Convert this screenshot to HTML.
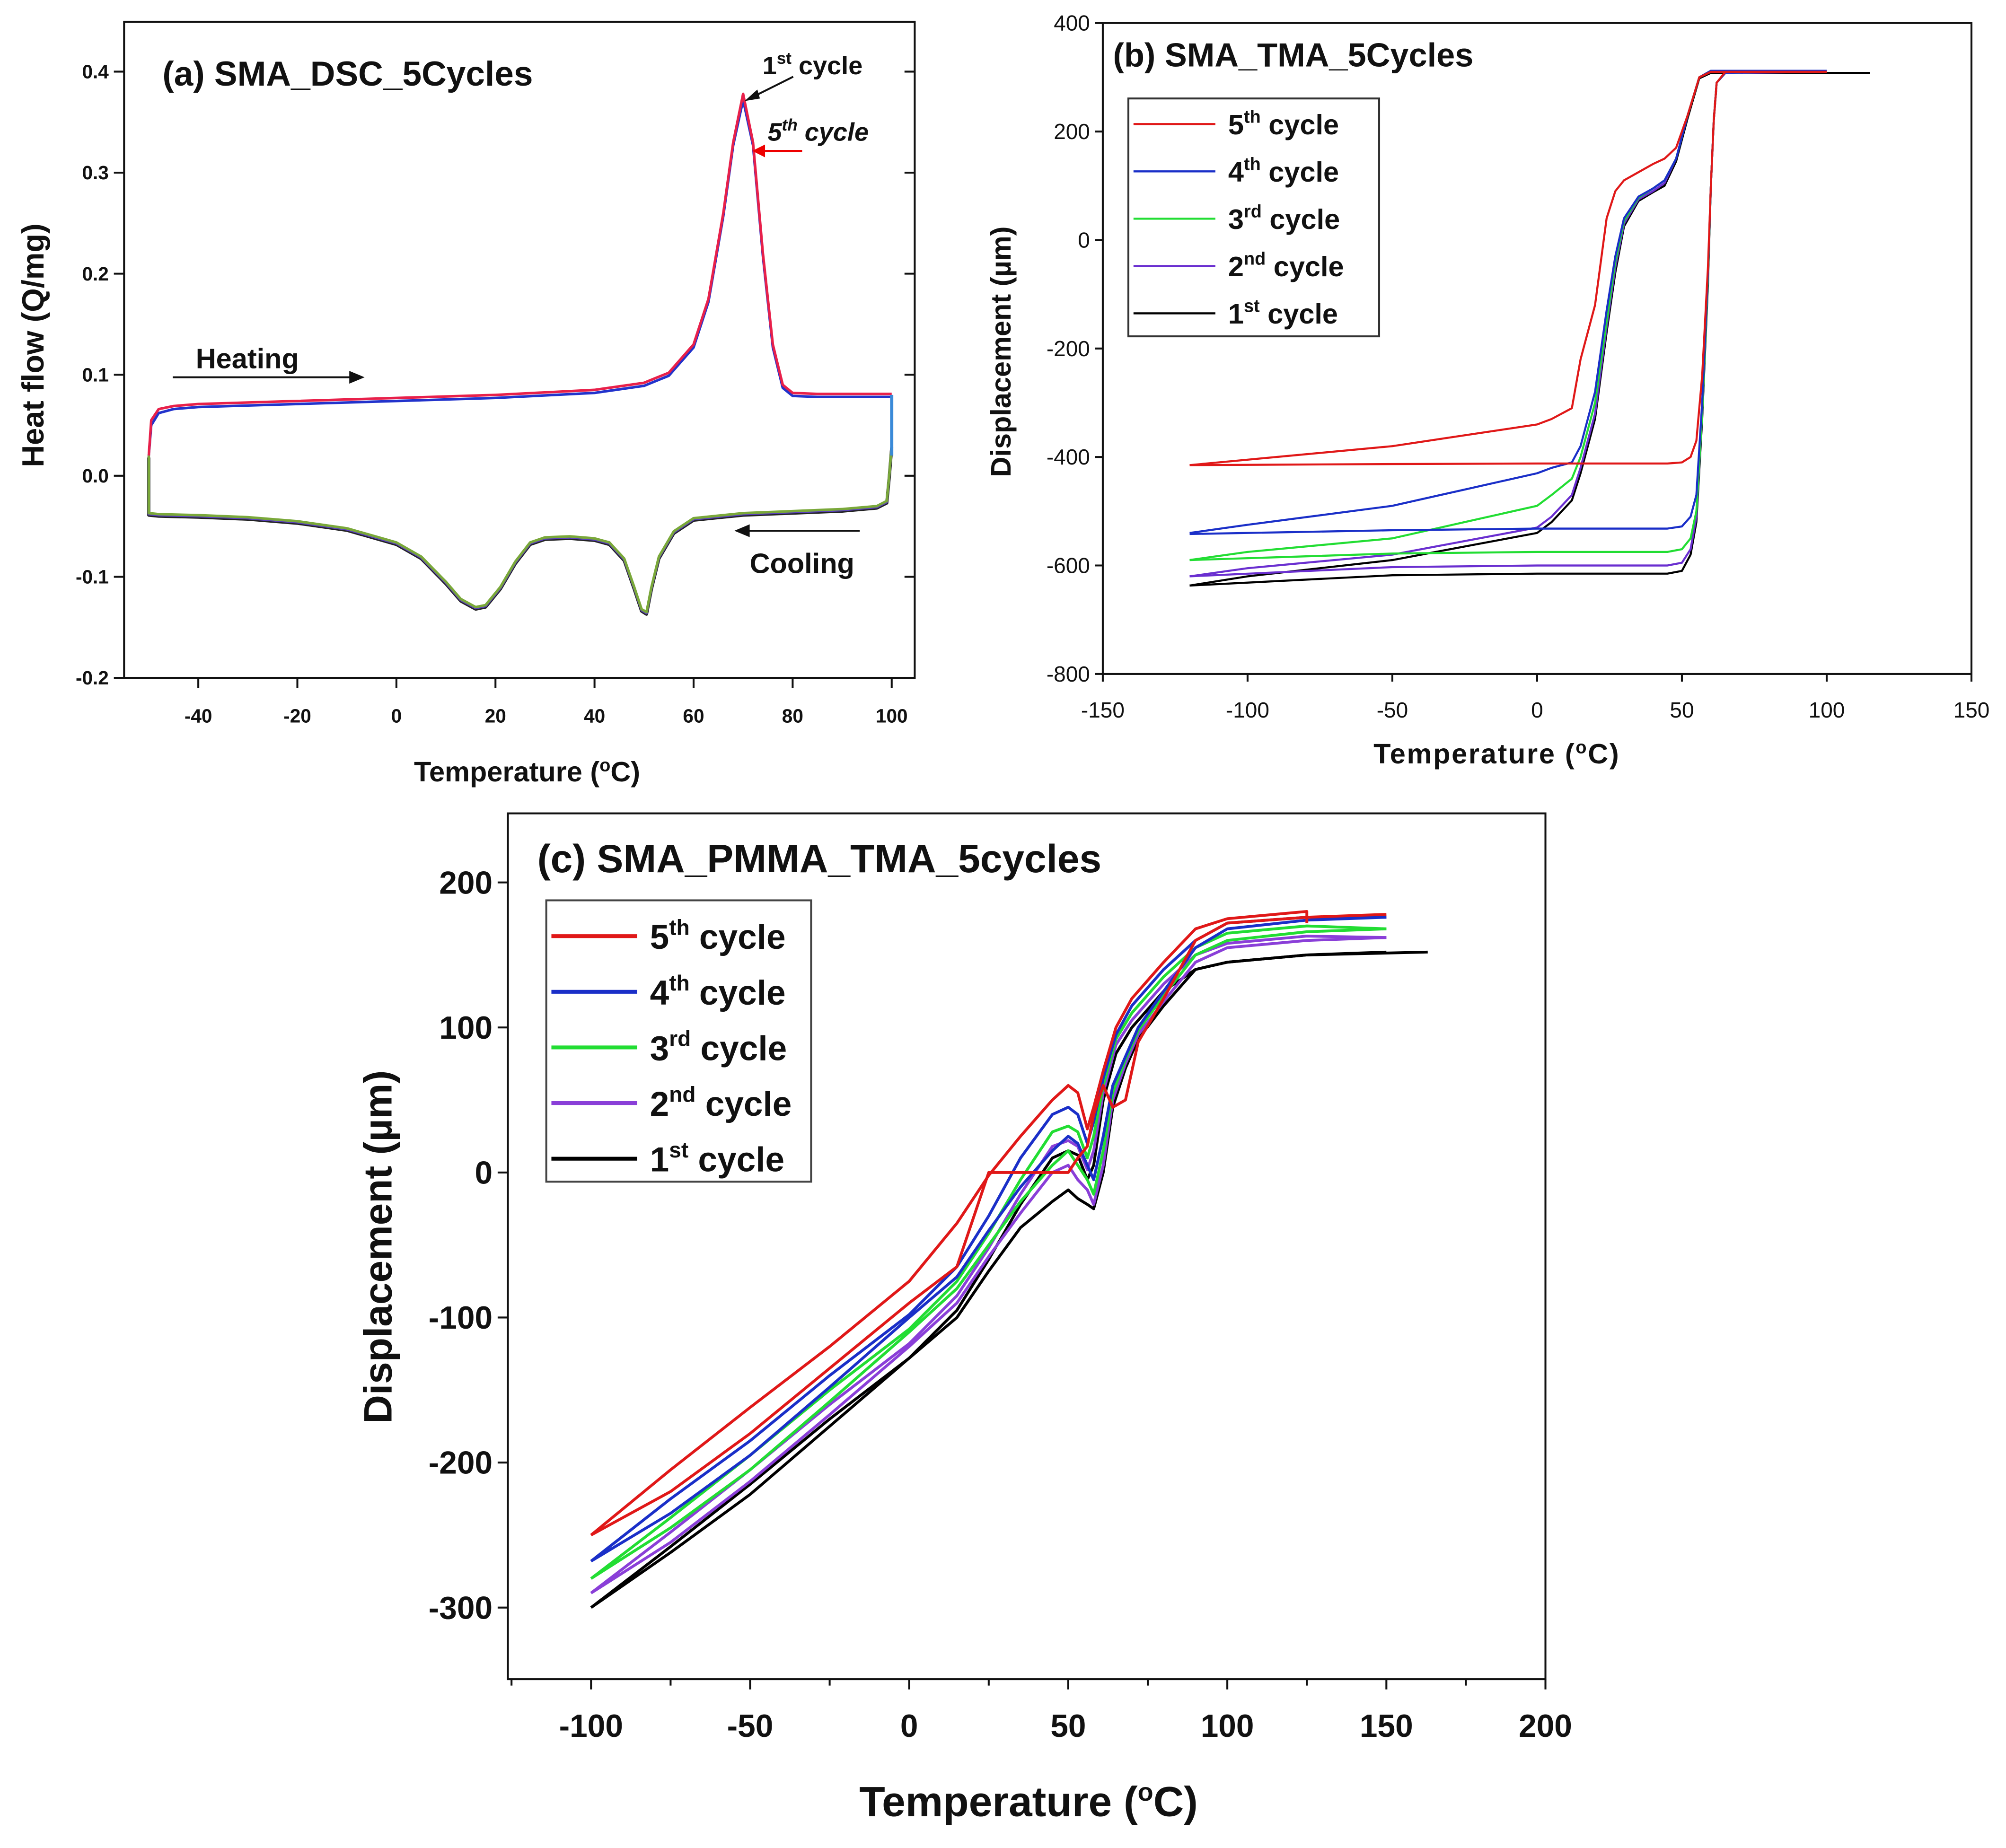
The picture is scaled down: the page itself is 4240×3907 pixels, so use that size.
<!DOCTYPE html>
<html><head><meta charset="utf-8"><style>
html,body{margin:0;padding:0;background:#fff}
svg{display:block}
text{font-family:"Liberation Sans",Arial,sans-serif;fill:#111}
</style></head><body>
<svg id="fig" width="4240" height="3907" viewBox="0 0 1568 1445" preserveAspectRatio="none" xmlns="http://www.w3.org/2000/svg">
<g id="pa"></g>
<g id="pb"></g>
<g id="pc"></g>
</svg>
<script>
// ---------- Panel (a) DSC data ----------
const aHeatT = [-50,-49.5,-48,-45,-40,-20,0,20,40,50,55,60,63,66,68,70,72,74,76,78,80,85,90,95,100];
const aHeatQ5 = [0.02,0.055,0.066,0.069,0.071,0.074,0.077,0.080,0.085,0.092,0.102,0.13,0.175,0.26,0.33,0.378,0.33,0.22,0.13,0.09,0.082,0.081,0.081,0.081,0.081];
const aHeatQ1 = [0.02,0.05,0.062,0.066,0.068,0.071,0.074,0.077,0.082,0.089,0.099,0.127,0.172,0.257,0.327,0.372,0.327,0.217,0.127,0.087,0.079,0.078,0.078,0.078,0.078];
const aCoolT = [100,99.5,99,97,90,80,70,60,56,53,51.5,50.5,49.5,48,46,43,40,35,30,27,24,21,18,16,13,10,5,0,-10,-20,-30,-40,-48,-50,-50];
const aCoolQ = [0.03,0.0,-0.025,-0.03,-0.033,-0.035,-0.037,-0.042,-0.055,-0.08,-0.11,-0.135,-0.132,-0.11,-0.082,-0.066,-0.062,-0.06,-0.061,-0.066,-0.085,-0.11,-0.128,-0.13,-0.122,-0.105,-0.08,-0.066,-0.052,-0.045,-0.041,-0.039,-0.038,-0.037,0.02];
const aXTicks = [-40,-20,0,20,40,60,80,100];
const aYTicks = [-0.2,-0.1,0.0,0.1,0.2,0.3,0.4];

// ---------- Panel (b) TMA data ----------
const bHeatT = [-120,-50,0,30,45,50,53,55,57,59,60,61,62,65,100,115];
const bCoolT = [100,60,56,52,48,44,40,35,30,27,24,20,15,12,5,0,-25,-50,-100,-120];
const bHeat5 = [-415,-413,-412,-412,-412,-410,-400,-370,-250,-50,100,220,290,310,310,310];
const bCool5 = [310,310,300,230,170,150,140,125,110,90,40,-120,-220,-310,-330,-340,-360,-380,-405,-415];
const bHeat4 = [-542,-535,-532,-532,-532,-528,-510,-470,-300,-60,100,220,290,308,312,312];
const bCool4 = [312,312,300,230,150,110,95,80,40,-30,-130,-280,-380,-410,-420,-430,-460,-490,-525,-540];
const bHeat3 = [-590,-578,-575,-575,-575,-570,-550,-500,-320,-70,100,220,290,308,312,312];
const bCool3 = [312,312,300,230,150,110,95,78,35,-40,-150,-300,-400,-440,-470,-490,-520,-550,-575,-590];
const bHeat2 = [-620,-603,-600,-600,-600,-595,-570,-510,-320,-70,100,220,290,308,310,310];
const bCool2 = [310,310,300,230,150,105,90,75,30,-50,-160,-320,-420,-470,-510,-530,-555,-580,-605,-620];
const bHeat1 = [-637,-618,-615,-615,-615,-610,-580,-520,-330,-80,100,220,290,308,308,308];
const bCool1 = [308,308,298,225,145,100,88,72,25,-60,-170,-330,-430,-480,-520,-540,-565,-590,-620,-637];
const bXTicks = [-150,-100,-50,0,50,100,150];
const bYTicks = [-800,-600,-400,-200,0,200,400];

// ---------- Panel (c) PMMA TMA data ----------
const cHeatT = [-100,-75,-50,-25,0,15,25,35,45,50,53,56,58,61,65,70,80,90,100,125,150];
const cCoolT = [150,125,100,90,80,72,68,64,61,58,56,53,50,45,35,25,15,0,-25,-50,-75,-100];
const cHeat5 = [-250,-205,-162,-120,-75,-35,-2,25,50,60,55,30,45,70,100,120,145,168,175,180,172];
const cCool5 = [178,176,172,160,120,90,50,45,60,40,18,10,0,0,0,0,-65,-90,-135,-180,-220,-250];
const cHeat4 = [-268,-225,-185,-140,-98,-65,-30,10,40,45,40,20,35,65,95,115,140,160,172,176,176];
const cCool4 = [176,174,168,155,125,100,80,60,25,-5,5,20,25,15,-10,-40,-72,-100,-148,-195,-235,-268];
const cHeat3 = [-280,-238,-195,-150,-108,-75,-42,-5,28,32,28,10,25,60,92,110,135,155,165,170,168];
const cCool3 = [168,166,160,150,122,98,78,55,15,-15,-5,5,15,5,-20,-50,-80,-110,-158,-205,-245,-280];
const cHeat2 = [-290,-248,-205,-160,-118,-85,-52,-15,18,22,18,2,15,55,88,105,130,150,158,163,162];
const cCool2 = [162,160,155,145,118,95,75,50,5,-22,-12,-5,5,0,-28,-58,-90,-120,-167,-213,-255,-290];
const cHeat1 = [-300,-258,-215,-170,-128,-95,-60,-22,10,15,12,-5,5,50,82,100,125,140,145,150,152];
const cCool1 = [152,150,145,140,115,92,72,45,0,-25,-22,-18,-12,-20,-38,-68,-100,-128,-175,-222,-262,-300];
const cXTicks = [-100,-50,0,50,100,150,200];
const cYTicks = [-300,-200,-100,0,100,200];

const NS = "http://www.w3.org/2000/svg";
function mk(parent, tag, attrs, txt){
  const e = document.createElementNS(NS, tag);
  for (const k in attrs) e.setAttribute(k, attrs[k]);
  if (txt !== undefined) e.textContent = txt;
  parent.appendChild(e);
  return e;
}
function lin(d0,d1,r0,r1){ return v => r0 + (v-d0)*(r1-r0)/(d1-d0); }
function line(g, xs, ys, X, Y, color, w, name){
  let d = "";
  for (let i=0;i<xs.length;i++) d += (i?"L":"M") + X(xs[i]).toFixed(2) + "," + Y(ys[i]).toFixed(2);
  const p = mk(g, "path", {d:d, fill:"none", stroke:color, "stroke-width":w, "stroke-linejoin":"round"});
  
  
  return p;
}
function frame(g, x0,y0,x1,y1, X, Y, xt, yt, fs, fw, tickLen, yfmt, name, xgap){
  const r = mk(g, "rect", {x:x0,y:y0,width:x1-x0,height:y1-y0,fill:"none",stroke:"#111","stroke-width":1.5});
  
  
  xt.forEach(v=>{
    const x = X(v);
    mk(g,"line",{x1:x,y1:y1,x2:x,y2:y1+tickLen,stroke:"#111","stroke-width":1.5});
    const t = mk(g,"text",{x:x,y:y1+tickLen+fs+2+xgap,"font-size":fs,"font-weight":fw,"text-anchor":"middle"}, String(v));
    
    
  });
  yt.forEach(v=>{
    const y = Y(v);
    mk(g,"line",{x1:x0-tickLen,y1:y,x2:x0,y2:y,stroke:"#111","stroke-width":1.5});
    const t = mk(g,"text",{x:x0-tickLen-4,y:y+fs*0.35,"font-size":fs,"font-weight":fw,"text-anchor":"end"}, yfmt(v));
    
    
  });
}

// ---------- Panel A ----------
(function(){
  const g = document.getElementById("pa");
  const X = lin(-40,100,155,697), Y = lin(0,0.4,372,56);
  frame(g,97,17,715,530,X,Y,aXTicks,aYTicks,15,"bold",8,v=>v.toFixed(1),"panel-a",10);
  aYTicks.forEach(v=>mk(g,"line",{x1:707,y1:Y(v),x2:715,y2:Y(v),stroke:"#111","stroke-width":1.5}));
  line(g,aCoolT,aCoolQ.map(v=>v-0.002),X,Y,"#222",2.5,"dsc-cooling-cycle-1");
  line(g,aCoolT,aCoolQ.map(v=>v-0.001),X,Y,"#5a3fbf",2,"dsc-cooling-cycle-2");
  line(g,aCoolT,aCoolQ,X,Y,"#7aa83a",2,"dsc-cooling-cycle-3");
  line(g,aHeatT,aHeatQ1,X,Y,"#2233cc",2,"dsc-heating-cycle-1");
  line(g,aHeatT,aHeatQ5,X,Y,"#e8204a",2,"dsc-heating-cycle-5");
  mk(g,"line",{x1:X(100),y1:Y(0.08),x2:X(100),y2:Y(0.02),stroke:"#3a8ad8","stroke-width":2.5});
  let t;
  t=mk(g,"text",{x:127,y:67,"font-size":27,"font-weight":"bold"},"(a) SMA_DSC_5Cycles");
   
  t=mk(g,"text",{x:596,y:58,"font-size":20,"font-weight":"bold"}); t.innerHTML='1<tspan dy="-8" font-size="13">st</tspan><tspan dy="8"> cycle</tspan>';
   
  mk(g,"line",{x1:620,y1:60,x2:588,y2:76,stroke:"#111","stroke-width":1.5});
  mk(g,"polygon",{points:"582,79 592,70 594,77",fill:"#111"});
  t=mk(g,"text",{x:600,y:110,"font-size":20,"font-weight":"bold","font-style":"italic"}); t.innerHTML='5<tspan dy="-8" font-size="13">th</tspan><tspan dy="8"> cycle</tspan>';
   
  mk(g,"line",{x1:598,y1:118,x2:627,y2:118,stroke:"#e00","stroke-width":1.5});
  mk(g,"polygon",{points:"588,118 598,113 598,123",fill:"#e00"});
  t=mk(g,"text",{x:153,y:288,"font-size":22,"font-weight":"bold"},"Heating");
   
  mk(g,"line",{x1:135,y1:295,x2:275,y2:295,stroke:"#111","stroke-width":1.5});
  mk(g,"polygon",{points:"285,295 273,290 273,300",fill:"#111"});
  t=mk(g,"text",{x:586,y:448,"font-size":22,"font-weight":"bold"},"Cooling");
   
  mk(g,"line",{x1:585,y1:415,x2:672,y2:415,stroke:"#111","stroke-width":1.5});
  mk(g,"polygon",{points:"574,415 586,410 586,420",fill:"#111"});
  t=mk(g,"text",{x:412,y:611,"font-size":22,"font-weight":"bold","text-anchor":"middle"}); t.innerHTML='Temperature (<tspan dy="-8" font-size="14">o</tspan><tspan dy="8">C)</tspan>';
   
  t=mk(g,"text",{x:0,y:0,"font-size":24,"font-weight":"bold","text-anchor":"middle",transform:"translate(34,270) rotate(-90)"},"Heat flow (Q/mg)");
   
})();

// ---------- Panel B ----------
(function(){
  const g = document.getElementById("pb");
  const X = lin(-150,150,862,1541), Y = lin(400,-800,18,527);
  frame(g,862,18,1541,527,X,Y,bXTicks,bYTicks,17,"normal",6,v=>String(v),"panel-b",9);
  const S = [
    [bHeat1,bCool1,"#000","1"],[bHeat2,bCool2,"#6a2fd0","2"],[bHeat3,bCool3,"#22dd33","3"],
    [bHeat4,bCool4,"#1a2fc8","4"],[bHeat5,bCool5,"#e01818","5"]];
  S.forEach(s=>{
    const ht = bHeatT.slice(); if(s[3]!=="1"){ ht[ht.length-1]=100; }
    line(g,ht,s[0],X,Y,s[2],1.6,"tma-heating-cycle-"+s[3]);
    line(g,bCoolT,s[1],X,Y,s[2],1.6,"tma-cooling-cycle-"+s[3]);
  });
  const leg = mk(g,"g",{});  
  mk(leg,"rect",{x:882,y:77,width:196,height:186,fill:"#fff",stroke:"#333","stroke-width":1.5});
  const L = [["5","th","#e01818"],["4","th","#1a2fc8"],["3","rd","#22dd33"],["2","nd","#6a2fd0"],["1","st","#000"]];
  L.forEach((l,i)=>{
    const y = 97+i*37;
    mk(leg,"line",{x1:886,y1:y,x2:950,y2:y,stroke:l[2],"stroke-width":1.6});
    const t = mk(leg,"text",{x:960,y:y+8,"font-size":22,"font-weight":"bold"}); t.innerHTML=l[0]+'<tspan dy="-9" font-size="14">'+l[1]+'</tspan><tspan dy="9"> cycle</tspan>';
     
  });
  let t=mk(g,"text",{x:870,y:52,"font-size":26,"font-weight":"bold"},"(b) SMA_TMA_5Cycles");
   
  t=mk(g,"text",{x:1170,y:597,"font-size":22,"font-weight":"bold","text-anchor":"middle","letter-spacing":"1"}); t.innerHTML='Temperature (<tspan dy="-8" font-size="14">o</tspan><tspan dy="8">C)</tspan>';
   
  t=mk(g,"text",{x:0,y:0,"font-size":22,"font-weight":"bold","text-anchor":"middle",transform:"translate(790,275) rotate(-90)"},"Displacement (µm)");
   
})();

// ---------- Panel C ----------
(function(){
  const g = document.getElementById("pc");
  const X = lin(-100,200,462,1208), Y = lin(200,-300,690,1257);
  frame(g,397,636,1208,1313,X,Y,cXTicks,cYTicks,25,"bold",8,v=>String(v),"panel-c",10);
  [-125,-75,-25,25,75,125,175].forEach(v=>mk(g,"line",{x1:X(v),y1:1313,x2:X(v),y2:1318,stroke:"#111","stroke-width":1.5}));
  const S = [
    [cHeat1,cCool1,"#000","1"],[cHeat2,cCool2,"#8a3fd8","2"],[cHeat3,cCool3,"#22dd33","3"],
    [cHeat4,cCool4,"#1a2fc8","4"],[cHeat5,cCool5,"#e01818","5"]];
  S.forEach(s=>{
    const ht = cHeatT.slice(); if(s[3]==="1"){ ht[ht.length-1]=163; } if(s[3]==="5"){ ht[ht.length-2]=125; ht[ht.length-1]=125; }
    line(g,ht,s[0],X,Y,s[2],2.2,"pmma-heating-cycle-"+s[3]);
    line(g,cCoolT,s[1],X,Y,s[2],2.2,"pmma-cooling-cycle-"+s[3]);
  });
  const leg = mk(g,"g",{});  
  mk(leg,"rect",{x:427,y:704,width:207,height:220,fill:"#fff",stroke:"#444","stroke-width":1.5});
  const L = [["5","th","#e01818"],["4","th","#1a2fc8"],["3","rd","#22dd33"],["2","nd","#8a3fd8"],["1","st","#000"]];
  L.forEach((l,i)=>{
    const y = 732+i*43.5;
    mk(leg,"line",{x1:431,y1:y,x2:498,y2:y,stroke:l[2],"stroke-width":3});
    const t = mk(leg,"text",{x:508,y:y+10,"font-size":27,"font-weight":"bold"}); t.innerHTML=l[0]+'<tspan dy="-11" font-size="17">'+l[1]+'</tspan><tspan dy="11"> cycle</tspan>';
     
  });
  let t=mk(g,"text",{x:420,y:682,"font-size":31,"font-weight":"bold"},"(c) SMA_PMMA_TMA_5cycles");
   
  t=mk(g,"text",{x:804,y:1420,"font-size":33,"font-weight":"bold","text-anchor":"middle"}); t.innerHTML='Temperature (<tspan dy="-12" font-size="20">o</tspan><tspan dy="12">C)</tspan>';
   
  t=mk(g,"text",{x:0,y:0,"font-size":31,"font-weight":"bold","text-anchor":"middle",transform:"translate(306,975) rotate(-90)"},"Displacement (µm)");
   
})();
</script>
</body></html>
